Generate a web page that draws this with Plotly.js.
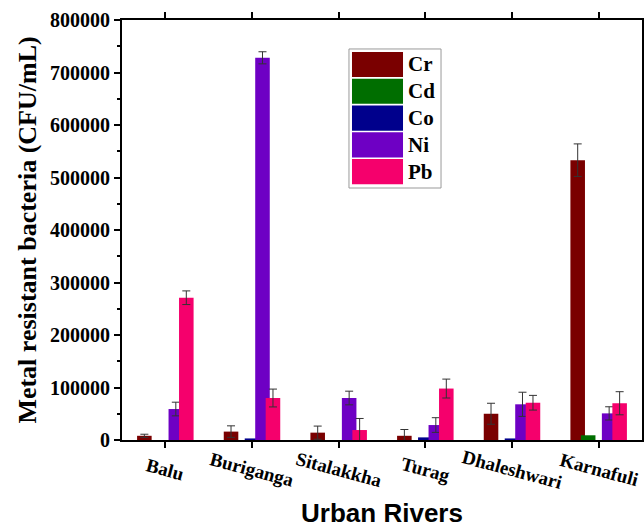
<!DOCTYPE html>
<html>
<head>
<meta charset="utf-8">
<script src="https://cdn.plot.ly/plotly-3.0.1.min.js"></script>
<style>html,body{margin:0;padding:0;background:#fff;}#chart{width:644px;height:528px;}</style>
</head>
<body>
<div id="chart"></div>
<script>
// ---- data ----
var rivers = ["Balu", "Buriganga", "Sitalakkha", "Turag", "Dhaleshwari", "Karnafuli"];
var metals = ["Cr", "Cd", "Co", "Ni", "Pb"];
var crValues = [8000, 16000, 14000, 8000, 50000, 533000];
var crErrors = [3000, 11000, 12500, 12000, 20000, 31000];
var cdValues = [0, 0, 0, 0, 0, 9000];
var cdErrors = [0, 0, 0, 0, 0, 0];
var coValues = [0, 3000, 0, 5000, 3000, 0];
var coErrors = [0, 0, 0, 0, 0, 0];
var niValues = [59000, 728000, 80000, 28500, 68000, 50700];
var niErrors = [13000, 11500, 13000, 14000, 23000, 12600];
var pbValues = [271000, 80000, 19000, 98000, 71000, 70000];
var pbErrors = [13000, 17000, 22000, 18000, 14000, 22000];
var yTickVals = [0, 100000, 200000, 300000, 400000, 500000, 600000, 700000, 800000];
var yTickText = ["0", "100000", "200000", "300000", "400000", "500000", "600000", "700000", "800000"];

// ---- styles ----
var colors = ["#7a0000", "#006e00", "#00008c", "#6e00c4", "#f5006c"];
var valuesList = [crValues, cdValues, coValues, niValues, pbValues];
var errorsList = [crErrors, cdErrors, coErrors, niErrors, pbErrors];
var barWidth = 0.168;
var step = 0.121;
var serif = "Liberation Serif, Times New Roman, serif";

var traces = metals.map(function (m, i) {
  var center = (i - 2) * step;
  var hasErr = errorsList[i].some(function (e) { return e > 0; });
  return {
    type: "bar",
    name: m,
    x: rivers,
    y: valuesList[i],
    width: barWidth,
    offset: center - barWidth / 2,
    marker: { color: colors[i], line: { width: 0 } },
    error_y: {
      type: "data",
      array: errorsList[i],
      visible: hasErr,
      color: "#333333",
      thickness: 1,
      width: 4
    },
    showlegend: false
  };
});

// custom legend (large swatches as in the reference)
var shapes = [];
var annotations = [];
var lgX0 = 0.4365, lgX1 = 0.6135, lgTop = 0.931, lgBot = 0.600;
shapes.push({ type: "rect", xref: "paper", yref: "paper", x0: lgX0, x1: lgX1, y0: lgBot, y1: lgTop,
  line: { color: "#999999", width: 1 }, fillcolor: "rgba(0,0,0,0)" });
var rowH = (lgTop - lgBot - 0.012) / metals.length;
metals.forEach(function (m, i) {
  var yTop = lgTop - 0.007 - i * rowH;
  shapes.push({ type: "rect", xref: "paper", yref: "paper", x0: 0.4423, x1: 0.5404,
    y0: yTop - rowH + 0.004, y1: yTop, line: { width: 0 }, fillcolor: colors[i] });
  annotations.push({ xref: "paper", yref: "paper", x: 0.546, y: yTop - rowH / 2 + 0.002,
    xanchor: "left", yanchor: "middle", text: m, showarrow: false,
    font: { family: serif, size: 21, color: "#000", weight: "bold" } });
});

// rotated category labels centred under each tick
rivers.forEach(function (r) {
  annotations.push({ xref: "x", yref: "paper", x: r, y: -0.07, xanchor: "center", yanchor: "middle",
    text: r, textangle: 15, showarrow: false,
    font: { family: serif, size: 19, color: "#000", weight: "bold" } });
});

var layout = {
  width: 644,
  height: 528,
  margin: { l: 122, r: 2, t: 20, b: 88 },
  paper_bgcolor: "#ffffff",
  plot_bgcolor: "#ffffff",
  barmode: "overlay",
  showlegend: false,
  xaxis: {
    type: "category",
    range: [-0.5, 5.5],
    showgrid: false,
    zeroline: false,
    showline: true,
    linecolor: "#000",
    linewidth: 2,
    mirror: "ticks",
    ticks: "outside",
    ticklen: 6,
    tickwidth: 2,
    tickcolor: "#000",
    showticklabels: false,
    title: { text: "Urban Rivers", standoff: 57,
      font: { family: "Liberation Sans, Arial, sans-serif", size: 26, color: "#000", weight: "bold" } }
  },
  yaxis: {
    range: [0, 800000],
    tickvals: yTickVals,
    ticktext: yTickText,
    showgrid: false,
    zeroline: false,
    showline: true,
    linecolor: "#000",
    linewidth: 2,
    mirror: "ticks",
    ticks: "outside",
    ticklen: 6,
    tickwidth: 2,
    tickcolor: "#000",
    minor: { dtick: 50000, ticks: "outside", ticklen: 3, tickwidth: 2, tickcolor: "#000", showgrid: false },
    tickfont: { family: serif, size: 20, color: "#000", weight: "bold" },
    title: { text: "Metal resistant bacteria (CFU/mL)", standoff: 6,
      font: { family: serif, size: 26, color: "#000", weight: "bold" } }
  },
  shapes: shapes,
  annotations: annotations
};

Plotly.newPlot("chart", traces, layout, { displayModeBar: false, staticPlot: true });
</script>
</body>
</html>
